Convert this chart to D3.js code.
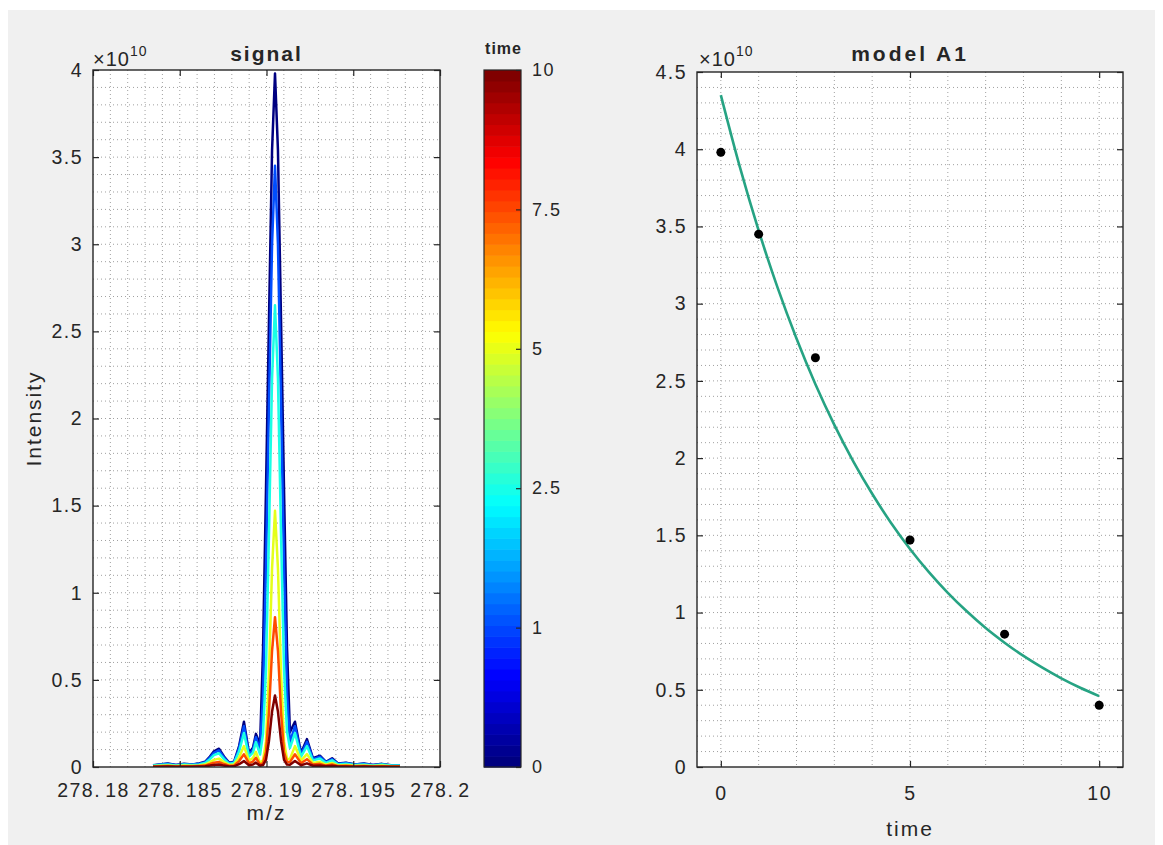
<!DOCTYPE html>
<html>
<head>
<meta charset="utf-8">
<script src="https://cdn.jsdelivr.net/npm/d3@7"></script>
<style>
  body { margin: 0; background: #ffffff; }
  svg text { font-family: "Liberation Sans", Arial, Helvetica, sans-serif; fill: #262626; }
</style>
</head>
<body>
<svg id="chart" width="1163" height="845"></svg>
<script>
// ---------------- DATA ----------------
// m/z sampling positions of the spectra
const mzValues = [
  278.18346, 278.18386, 278.18432, 278.18478, 278.18525, 278.18571, 278.18611, 278.18646,
  278.18674, 278.18697, 278.18726, 278.18755, 278.18784, 278.18813, 278.18842, 278.18870,
  278.18899, 278.18922, 278.18939,
  278.18963, 278.18980, 278.18997, 278.19014, 278.19032, 278.19049, 278.19066, 278.19084,
  278.19101, 278.19118, 278.19135,
  278.19164, 278.19199, 278.19233, 278.19268, 278.19308, 278.19343, 278.19378, 278.19412,
  278.19458, 278.19510, 278.19562, 278.19614, 278.19666, 278.19718, 278.19769
];
// intensities (x 1e10) for each time point
const intensityT0 = [
  0.010, 0.015, 0.020, 0.012, 0.018, 0.015, 0.020, 0.030, 0.060, 0.090, 0.105, 0.060,
  0.025, 0.030, 0.120, 0.260, 0.080, 0.110, 0.190,
  0.130, 0.670, 1.590, 2.550, 3.540, 3.980, 3.540, 2.550, 1.590, 0.690, 0.200,
  0.260, 0.080, 0.160, 0.050, 0.065, 0.030, 0.050, 0.020, 0.025, 0.015, 0.020, 0.012,
  0.018, 0.010, 0.010
];
const intensityT1 = [
  0.009, 0.014, 0.018, 0.011, 0.016, 0.014, 0.018, 0.027, 0.054, 0.081, 0.095, 0.054,
  0.023, 0.027, 0.108, 0.234, 0.072, 0.099, 0.171,
  0.095, 0.407, 1.140, 2.070, 3.000, 3.450, 3.000, 2.070, 1.140, 0.425, 0.140,
  0.234, 0.072, 0.144, 0.045, 0.059, 0.027, 0.045, 0.018, 0.023, 0.014, 0.018, 0.011,
  0.016, 0.009, 0.009
];
const intensityT2_5 = [
  0.008, 0.011, 0.015, 0.009, 0.014, 0.011, 0.015, 0.023, 0.045, 0.068, 0.079, 0.045,
  0.019, 0.023, 0.090, 0.195, 0.060, 0.083, 0.143,
  0.072, 0.190, 0.559, 1.325, 2.230, 2.650, 2.230, 1.325, 0.559, 0.205, 0.109,
  0.195, 0.060, 0.120, 0.038, 0.049, 0.023, 0.038, 0.015, 0.019, 0.011, 0.015, 0.009,
  0.014, 0.008, 0.008
];
const intensityT5 = [
  0.005, 0.007, 0.009, 0.006, 0.008, 0.007, 0.009, 0.014, 0.028, 0.041, 0.048, 0.028,
  0.012, 0.014, 0.055, 0.120, 0.037, 0.051, 0.087,
  0.023, 0.039, 0.147, 0.529, 1.139, 1.470, 1.139, 0.529, 0.147, 0.048, 0.046,
  0.120, 0.037, 0.074, 0.023, 0.030, 0.014, 0.023, 0.009, 0.012, 0.007, 0.009, 0.006,
  0.008, 0.005, 0.005
];
const intensityT7_5 = [
  0.003, 0.004, 0.006, 0.003, 0.005, 0.004, 0.006, 0.008, 0.017, 0.025, 0.029, 0.017,
  0.007, 0.008, 0.034, 0.073, 0.022, 0.031, 0.053,
  0.014, 0.023, 0.086, 0.310, 0.667, 0.860, 0.667, 0.310, 0.086, 0.029, 0.028,
  0.073, 0.022, 0.045, 0.014, 0.018, 0.008, 0.014, 0.006, 0.007, 0.004, 0.006, 0.003,
  0.005, 0.003, 0.003
];
const intensityT10 = [
  0.001, 0.002, 0.003, 0.002, 0.002, 0.002, 0.003, 0.004, 0.008, 0.012, 0.014, 0.008,
  0.003, 0.004, 0.016, 0.034, 0.010, 0.014, 0.025,
  0.007, 0.011, 0.041, 0.148, 0.318, 0.410, 0.318, 0.148, 0.041, 0.014, 0.013,
  0.034, 0.010, 0.021, 0.007, 0.008, 0.004, 0.007, 0.003, 0.003, 0.002, 0.003, 0.002,
  0.002, 0.001, 0.001
];
const timePoints = [0, 1, 2.5, 5, 7.5, 10];
const timeLabels = ["0", "1", "2.5", "5", "7.5", "10"];

const mzTicks = [278.18, 278.185, 278.19, 278.195, 278.2];
const mzTickLabels = ["278.18", "278.185", "278.19", "278.195", "278.2"];
const intensityTicks = [0, 0.5, 1, 1.5, 2, 2.5, 3, 3.5, 4];

// model A1: observed peak intensities (x 1e10) and fitted curve
const modelTime = [0, 1, 2.5, 5, 7.5, 10];
const modelObserved = [3.98, 3.45, 2.65, 1.47, 0.86, 0.40];
const fitTime = [0, 0.5, 1, 1.5, 2, 2.5, 3, 3.5, 4, 4.5, 5, 5.5, 6, 6.5, 7, 7.5, 8, 8.5, 9, 9.5, 10];
const fitValue = [4.350, 3.887, 3.473, 3.104, 2.774, 2.478, 2.215, 1.979, 1.769, 1.580, 1.412,
                  1.262, 1.128, 1.008, 0.900, 0.805, 0.719, 0.643, 0.574, 0.513, 0.459];
const timeTicks = [0, 5, 10];
const modelYTicks = [0, 0.5, 1, 1.5, 2, 2.5, 3, 3.5, 4, 4.5];

// ---------------- DRAWING ----------------
const svg = d3.select("#chart");
svg.append("rect").attr("x", 8).attr("y", 10).attr("width", 1147).attr("height", 835).attr("fill", "#f0f0f0");

function jet(v) {
  const c = x => Math.max(0, Math.min(1, x));
  return d3.rgb(
    255 * c(Math.min(4 * v - 1.5, -4 * v + 4.5)),
    255 * c(Math.min(4 * v - 0.5, -4 * v + 3.5)),
    255 * c(Math.min(4 * v + 0.5, -4 * v + 2.5))
  ).formatHex();
}

const TICK_FONT = 19.5, LS = "1.5px";

function drawGrid(g, xs, ys, x, y, box) {
  g.append("g").selectAll("line").data(xs).join("line")
    .attr("x1", d => x(d)).attr("x2", d => x(d)).attr("y1", box.y0).attr("y2", box.y1)
    .attr("stroke", "#a0a0a0").attr("stroke-width", 1).attr("stroke-dasharray", "1,3");
  g.append("g").selectAll("line").data(ys).join("line")
    .attr("y1", d => y(d)).attr("y2", d => y(d)).attr("x1", box.x0).attr("x2", box.x1)
    .attr("stroke", "#a0a0a0").attr("stroke-width", 1).attr("stroke-dasharray", "1,3");
}

function styleAxis(sel) {
  sel.select(".domain").remove();
  sel.selectAll(".tick line").attr("stroke", "#262626").attr("stroke-width", 1.2);
  sel.selectAll(".tick text").attr("font-size", TICK_FONT).attr("letter-spacing", LS)
    .attr("fill", "#333333").style("font-family", '"Liberation Sans", Arial, sans-serif');
}

function exponentLabel(x, y) {
  const t = svg.append("text").attr("x", x).attr("y", y).attr("font-size", 20)
    .attr("letter-spacing", "1px").attr("fill", "#505050");
  t.append("tspan").text("×10");
  t.append("tspan").attr("dy", -10).attr("font-size", 14).text("10");
}

// ===== Left: signal =====
const L = { x0: 93, x1: 440, y0: 70, y1: 767 };
const xL = d3.scaleLinear().domain([278.18, 278.2]).range([L.x0, L.x1]);
const yL = d3.scaleLinear().domain([0, 4]).range([L.y1, L.y0]);
const gL = svg.append("g");
gL.append("rect").attr("x", L.x0).attr("y", L.y0).attr("width", L.x1 - L.x0).attr("height", L.y1 - L.y0).attr("fill", "#ffffff");
drawGrid(gL, d3.range(1, 20).map(i => 278.18 + i * 0.001), d3.range(1, 40).map(i => i * 0.1), xL, yL, L);

gL.append("clipPath").attr("id", "clipL").append("rect")
  .attr("x", L.x0).attr("y", L.y0 - 1).attr("width", L.x1 - L.x0).attr("height", L.y1 - L.y0 + 1);

const spectra = [intensityT0, intensityT1, intensityT2_5, intensityT5, intensityT7_5, intensityT10];
const lineL = d3.line().x((d, i) => xL(mzValues[i])).y(d => yL(d));
gL.append("g").attr("clip-path", "url(#clipL)").selectAll("path").data(spectra).join("path")
  .attr("d", d => lineL(d)).attr("fill", "none")
  .attr("stroke", (d, i) => jet(i / (spectra.length - 1)))
  .attr("stroke-width", 2.5).attr("stroke-linejoin", "round");

const axBL = gL.append("g").attr("transform", `translate(0,${L.y1})`)
  .call(d3.axisBottom(xL).tickValues(mzTicks).tickSize(-6).tickPadding(16).tickFormat((d, i) => mzTickLabels[i]));
styleAxis(axBL);
axBL.selectAll(".tick text").each(function (d, i) {
  const s = mzTickLabels[i];
  const k = s.indexOf(".");
  const t = d3.select(this).text(null);
  t.append("tspan").text(s.slice(0, k + 1));
  t.append("tspan").attr("dx", 4).text(s.slice(k + 1));
});
const axTL = gL.append("g").attr("transform", `translate(0,${L.y0})`)
  .call(d3.axisTop(xL).tickValues(mzTicks).tickSize(-6).tickFormat(""));
styleAxis(axTL);
const axLL = gL.append("g").attr("transform", `translate(${L.x0},0)`)
  .call(d3.axisLeft(yL).tickValues(intensityTicks).tickSize(-6).tickPadding(10).tickFormat(d => String(d)));
styleAxis(axLL);
const axRL = gL.append("g").attr("transform", `translate(${L.x1},0)`)
  .call(d3.axisRight(yL).tickValues(intensityTicks).tickSize(-6).tickFormat(""));
styleAxis(axRL);
gL.append("rect").attr("x", L.x0).attr("y", L.y0).attr("width", L.x1 - L.x0).attr("height", L.y1 - L.y0)
  .attr("fill", "none").attr("stroke", "#262626").attr("stroke-width", 1.4);

svg.append("text").attr("x", (L.x0 + L.x1) / 2).attr("y", 61).attr("text-anchor", "middle")
  .attr("font-size", 21).attr("font-weight", "bold").attr("letter-spacing", "2px").attr("fill", "#1a1a1a").text("signal");
svg.append("text").attr("x", (L.x0 + L.x1) / 2).attr("y", 820).attr("text-anchor", "middle")
  .attr("font-size", 21).attr("letter-spacing", "2px").attr("fill", "#333").text("m/z");
svg.append("text").attr("transform", `translate(41,${(L.y0 + L.y1) / 2}) rotate(-90)`).attr("text-anchor", "middle")
  .attr("font-size", 21).attr("letter-spacing", "2px").attr("fill", "#333").text("Intensity");
exponentLabel(L.x0, 66);

// ===== Colorbar =====
const CB = { x0: 484, x1: 521, y0: 70, y1: 767 };
const nBands = 64;
const bandH = (CB.y1 - CB.y0) / nBands;
svg.append("g").selectAll("rect").data(d3.range(nBands)).join("rect")
  .attr("x", CB.x0).attr("width", CB.x1 - CB.x0)
  .attr("y", d => CB.y1 - (d + 1) * bandH).attr("height", bandH + 0.6)
  .attr("fill", d => jet(d / (nBands - 1)));
svg.append("rect").attr("x", CB.x0).attr("y", CB.y0).attr("width", CB.x1 - CB.x0).attr("height", CB.y1 - CB.y0)
  .attr("fill", "none").attr("stroke", "#262626").attr("stroke-width", 1.2);
const cbScale = d3.scalePoint().domain(timeLabels).range([CB.y1, CB.y0]);
const axCB = svg.append("g").attr("transform", `translate(${CB.x1},0)`)
  .call(d3.axisRight(cbScale).tickSize(-5).tickPadding(11));
styleAxis(axCB);
axCB.selectAll(".tick text").attr("font-size", 18).attr("letter-spacing", "1.5px");
svg.append("text").attr("x", (CB.x0 + CB.x1) / 2 + 1).attr("y", 54).attr("text-anchor", "middle")
  .attr("font-size", 16).attr("font-weight", "bold").attr("letter-spacing", "1px").attr("fill", "#333").text("time");

// ===== Right: model A1 =====
const R = { x0: 697, x1: 1123, y0: 72, y1: 767 };
const xR = d3.scaleLinear().domain([-0.63, 10.63]).range([R.x0, R.x1]);
const yR = d3.scaleLinear().domain([0, 4.5]).range([R.y1, R.y0]);
const gR = svg.append("g");
gR.append("rect").attr("x", R.x0).attr("y", R.y0).attr("width", R.x1 - R.x0).attr("height", R.y1 - R.y0).attr("fill", "#ffffff");
drawGrid(gR, d3.range(0, 11), d3.range(1, 45).map(i => i * 0.1), xR, yR, R);

const lineR = d3.line().x((d, i) => xR(fitTime[i])).y(d => yR(d)).curve(d3.curveMonotoneX);
gR.append("path").attr("d", lineR(fitValue)).attr("fill", "none")
  .attr("stroke", "#26a383").attr("stroke-width", 2.6);
gR.append("g").selectAll("circle").data(modelObserved).join("circle")
  .attr("cx", (d, i) => xR(modelTime[i])).attr("cy", d => yR(d)).attr("r", 4.5).attr("fill", "#000");

const axBR = gR.append("g").attr("transform", `translate(0,${R.y1})`)
  .call(d3.axisBottom(xR).tickValues(timeTicks).tickSize(-6).tickPadding(19).tickFormat(d => String(d)));
styleAxis(axBR);
const axTR = gR.append("g").attr("transform", `translate(0,${R.y0})`)
  .call(d3.axisTop(xR).tickValues(timeTicks).tickSize(-6).tickFormat(""));
styleAxis(axTR);
const axLR = gR.append("g").attr("transform", `translate(${R.x0},0)`)
  .call(d3.axisLeft(yR).tickValues(modelYTicks).tickSize(-6).tickPadding(10).tickFormat(d => String(d)));
styleAxis(axLR);
const axRR = gR.append("g").attr("transform", `translate(${R.x1},0)`)
  .call(d3.axisRight(yR).tickValues(modelYTicks).tickSize(-6).tickFormat(""));
styleAxis(axRR);
gR.append("rect").attr("x", R.x0).attr("y", R.y0).attr("width", R.x1 - R.x0).attr("height", R.y1 - R.y0)
  .attr("fill", "none").attr("stroke", "#262626").attr("stroke-width", 1.4);

svg.append("text").attr("x", (R.x0 + R.x1) / 2).attr("y", 61).attr("text-anchor", "middle")
  .attr("font-size", 21).attr("font-weight", "bold").attr("letter-spacing", "3px").attr("fill", "#1a1a1a").text("model A1");
svg.append("text").attr("x", xR(5)).attr("y", 836).attr("text-anchor", "middle")
  .attr("font-size", 21).attr("letter-spacing", "2px").attr("fill", "#333").text("time");
exponentLabel(R.x0 + 2, 66);
</script>
</body>
</html>
